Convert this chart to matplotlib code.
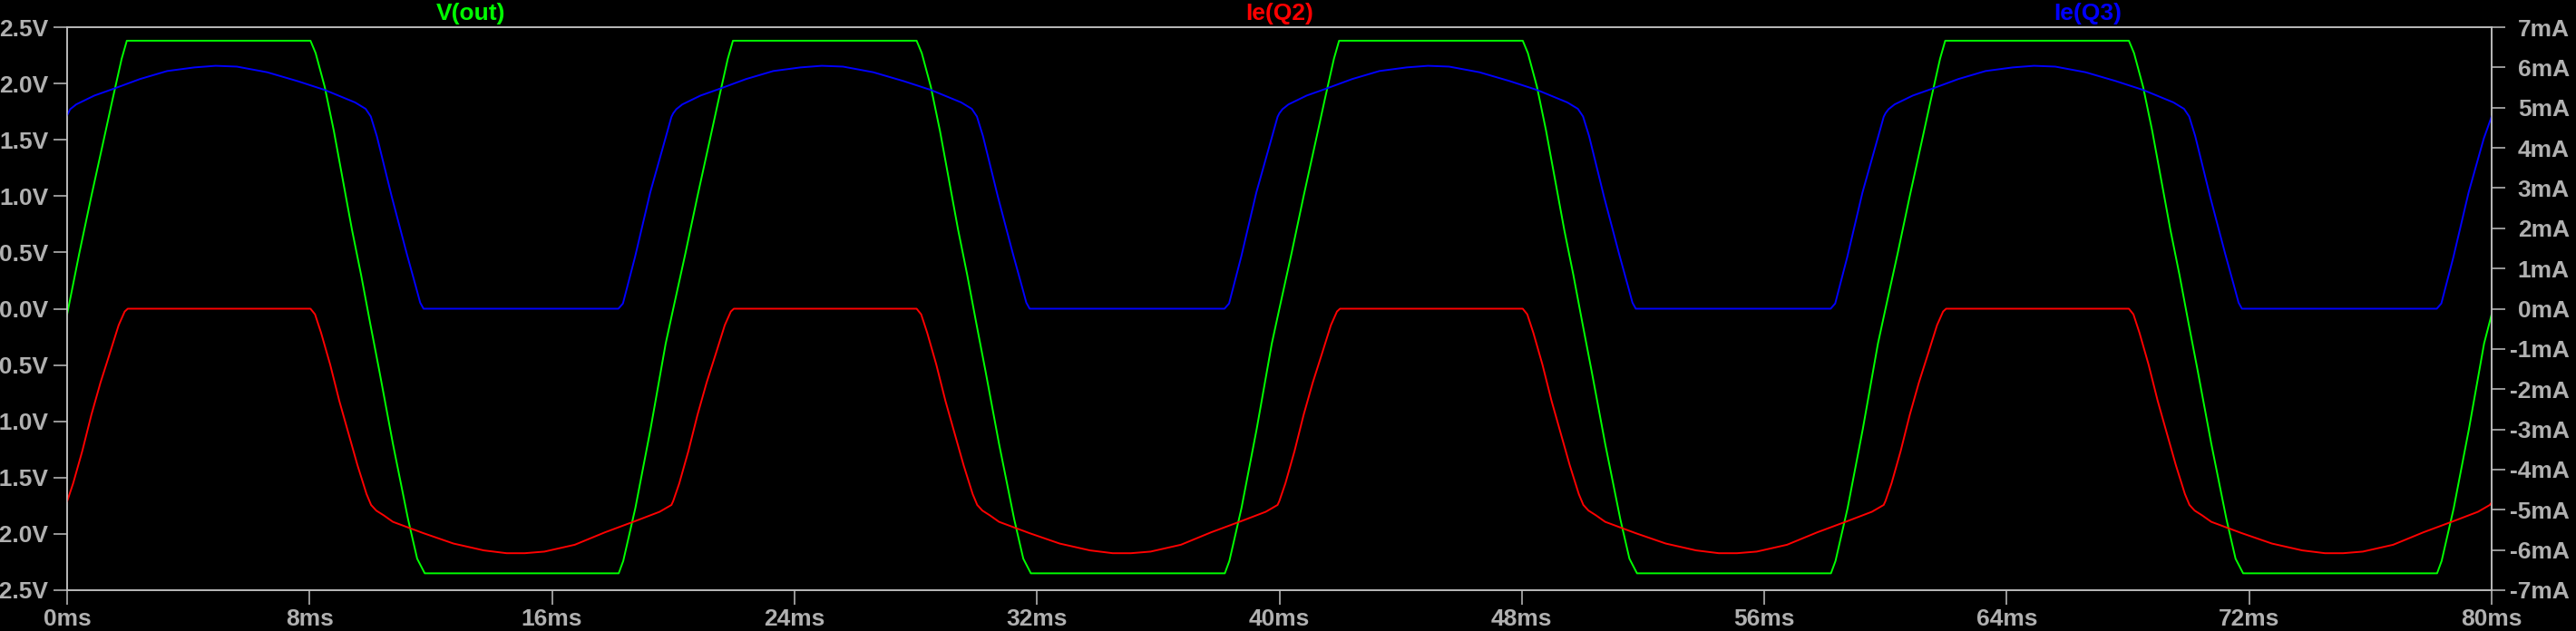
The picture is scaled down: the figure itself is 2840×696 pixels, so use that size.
import matplotlib
matplotlib.use('Agg')
import matplotlib.pyplot as plt

# ---------------- data ----------------
# time axis in ms
t_vout = [0.0, 0.4, 0.8, 1.2, 1.5, 1.8, 1.97, 8.03, 8.2, 8.5, 8.8, 9.1, 9.4, 9.7, 10.0, 10.3, 10.75, 11.25, 11.55, 11.8, 18.2, 18.35, 18.75, 19.25, 19.75,
          20.0, 20.4, 20.8, 21.2, 21.5, 21.8, 21.97, 28.03, 28.2, 28.5, 28.8, 29.1, 29.4, 29.7, 30.0, 30.3, 30.75, 31.25, 31.55, 31.8, 38.2, 38.35, 38.75, 39.25, 39.75,
          40.0, 40.4, 40.8, 41.2, 41.5, 41.8, 41.97, 48.03, 48.2, 48.5, 48.8, 49.1, 49.4, 49.7, 50.0, 50.3, 50.75, 51.25, 51.55, 51.8, 58.2, 58.35, 58.75, 59.25, 59.75,
          60.0, 60.4, 60.8, 61.2, 61.5, 61.8, 61.97, 68.03, 68.2, 68.5, 68.8, 69.1, 69.4, 69.7, 70.0, 70.3, 70.75, 71.25, 71.55, 71.8, 78.2, 78.35, 78.75, 79.25, 79.75,
          80.0]
v_out = [-0.05, 0.49, 1.00, 1.49, 1.86, 2.22, 2.38, 2.38, 2.27, 1.97, 1.58, 1.14, 0.70, 0.30, -0.13, -0.55, -1.20, -1.87, -2.22, -2.35, -2.35, -2.24, -1.77, -1.07, -0.31,
         0.00, 0.49, 1.00, 1.49, 1.86, 2.22, 2.38, 2.38, 2.27, 1.97, 1.58, 1.14, 0.70, 0.30, -0.13, -0.55, -1.20, -1.87, -2.22, -2.35, -2.35, -2.24, -1.77, -1.07, -0.31,
         0.00, 0.49, 1.00, 1.49, 1.86, 2.22, 2.38, 2.38, 2.27, 1.97, 1.58, 1.14, 0.70, 0.30, -0.13, -0.55, -1.20, -1.87, -2.22, -2.35, -2.35, -2.24, -1.77, -1.07, -0.31,
         0.00, 0.49, 1.00, 1.49, 1.86, 2.22, 2.38, 2.38, 2.27, 1.97, 1.58, 1.14, 0.70, 0.30, -0.13, -0.55, -1.20, -1.87, -2.22, -2.35, -2.35, -2.24, -1.77, -1.07, -0.31,
         -0.05]

t_q2 = [0.0, 0.2, 0.5, 0.8, 1.1, 1.4, 1.7, 1.9, 2.0, 8.03, 8.18, 8.38, 8.68, 8.98, 9.28, 9.58, 9.88, 10.03, 10.2, 10.45, 10.75, 11.75, 12.75, 13.75, 14.5, 15.1, 15.75, 16.75, 17.75, 18.75, 19.55, 19.94,
        20.0, 20.2, 20.5, 20.8, 21.1, 21.4, 21.7, 21.9, 22.0, 28.03, 28.18, 28.38, 28.68, 28.98, 29.28, 29.58, 29.88, 30.03, 30.2, 30.45, 30.75, 31.75, 32.75, 33.75, 34.5, 35.1, 35.75, 36.75, 37.75, 38.75, 39.55, 39.94,
        40.0, 40.2, 40.5, 40.8, 41.1, 41.4, 41.7, 41.9, 42.0, 48.03, 48.18, 48.38, 48.68, 48.98, 49.28, 49.58, 49.88, 50.03, 50.2, 50.45, 50.75, 51.75, 52.75, 53.75, 54.5, 55.1, 55.75, 56.75, 57.75, 58.75, 59.55, 59.94,
        60.0, 60.2, 60.5, 60.8, 61.1, 61.4, 61.7, 61.9, 62.0, 68.03, 68.18, 68.38, 68.68, 68.98, 69.28, 69.58, 69.88, 70.03, 70.2, 70.45, 70.75, 71.75, 72.75, 73.75, 74.5, 75.1, 75.75, 76.75, 77.75, 78.75, 79.55, 79.94,
        80.0]
ie_q2 = [-4.79, -4.34, -3.54, -2.64, -1.84, -1.13, -0.41, -0.07, 0.0, 0.0, -0.14, -0.60, -1.39, -2.29, -3.09, -3.89, -4.61, -4.88, -5.02, -5.14, -5.30, -5.58, -5.84, -6.01, -6.08, -6.08, -6.04, -5.87, -5.56, -5.28, -5.05, -4.88,
         -4.78, -4.34, -3.54, -2.64, -1.84, -1.13, -0.41, -0.07, 0.0, 0.0, -0.14, -0.60, -1.39, -2.29, -3.09, -3.89, -4.61, -4.88, -5.02, -5.14, -5.30, -5.58, -5.84, -6.01, -6.08, -6.08, -6.04, -5.87, -5.56, -5.28, -5.05, -4.88,
         -4.78, -4.34, -3.54, -2.64, -1.84, -1.13, -0.41, -0.07, 0.0, 0.0, -0.14, -0.60, -1.39, -2.29, -3.09, -3.89, -4.61, -4.88, -5.02, -5.14, -5.30, -5.58, -5.84, -6.01, -6.08, -6.08, -6.04, -5.87, -5.56, -5.28, -5.05, -4.88,
         -4.78, -4.34, -3.54, -2.64, -1.84, -1.13, -0.41, -0.07, 0.0, 0.0, -0.14, -0.60, -1.39, -2.29, -3.09, -3.89, -4.61, -4.88, -5.02, -5.14, -5.30, -5.58, -5.84, -6.01, -6.08, -6.08, -6.04, -5.87, -5.56, -5.28, -5.05, -4.88,
         -4.82]

t_q3 = [0.0, 0.1, 0.3, 0.9, 1.5, 2.4, 3.3, 4.2, 4.9, 5.6, 6.6, 7.6, 8.5, 9.5, 9.85, 10.02, 10.22, 10.71, 11.21, 11.51, 11.65, 11.76, 18.19, 18.34, 18.74, 19.24, 19.74, 19.94,
        20.0, 20.1, 20.3, 20.9, 21.5, 22.4, 23.3, 24.2, 24.9, 25.6, 26.6, 27.6, 28.5, 29.5, 29.85, 30.02, 30.22, 30.71, 31.21, 31.51, 31.65, 31.76, 38.19, 38.34, 38.74, 39.24, 39.74, 39.94,
        40.0, 40.1, 40.3, 40.9, 41.5, 42.4, 43.3, 44.2, 44.9, 45.6, 46.6, 47.6, 48.5, 49.5, 49.85, 50.02, 50.22, 50.71, 51.21, 51.51, 51.65, 51.76, 58.19, 58.34, 58.74, 59.24, 59.74, 59.94,
        60.0, 60.1, 60.3, 60.9, 61.5, 62.4, 63.3, 64.2, 64.9, 65.6, 66.6, 67.6, 68.5, 69.5, 69.85, 70.02, 70.22, 70.71, 71.21, 71.51, 71.65, 71.76, 78.19, 78.34, 78.74, 79.24, 79.74,
        80.0]
ie_q3 = [4.81, 4.96, 5.08, 5.30, 5.46, 5.71, 5.91, 6.00, 6.04, 6.02, 5.88, 5.66, 5.44, 5.13, 4.97, 4.78, 4.29, 2.79, 1.36, 0.54, 0.15, 0.0, 0.0, 0.13, 1.29, 2.89, 4.23, 4.77,
         4.86, 4.96, 5.08, 5.30, 5.46, 5.71, 5.91, 6.00, 6.04, 6.02, 5.88, 5.66, 5.44, 5.13, 4.97, 4.78, 4.29, 2.79, 1.36, 0.54, 0.15, 0.0, 0.0, 0.13, 1.29, 2.89, 4.23, 4.77,
         4.86, 4.96, 5.08, 5.30, 5.46, 5.71, 5.91, 6.00, 6.04, 6.02, 5.88, 5.66, 5.44, 5.13, 4.97, 4.78, 4.29, 2.79, 1.36, 0.54, 0.15, 0.0, 0.0, 0.13, 1.29, 2.89, 4.23, 4.77,
         4.86, 4.96, 5.08, 5.30, 5.46, 5.71, 5.91, 6.00, 6.04, 6.02, 5.88, 5.66, 5.44, 5.13, 4.97, 4.78, 4.29, 2.79, 1.36, 0.54, 0.15, 0.0, 0.0, 0.13, 1.29, 2.89, 4.23,
         4.78]

x_ticks = [0, 8, 16, 24, 32, 40, 48, 56, 64, 72, 80]
x_labels = ['0ms', '8ms', '16ms', '24ms', '32ms', '40ms', '48ms', '56ms', '64ms', '72ms', '80ms']
v_ticks = [2.5, 2.0, 1.5, 1.0, 0.5, 0.0, -0.5, -1.0, -1.5, -2.0, -2.5]
v_labels = ['2.5V', '2.0V', '1.5V', '1.0V', '0.5V', '0.0V', '-0.5V', '-1.0V', '-1.5V', '-2.0V', '-2.5V']
i_ticks = [7, 6, 5, 4, 3, 2, 1, 0, -1, -2, -3, -4, -5, -6, -7]
i_labels = ['7mA', '6mA', '5mA', '4mA', '3mA', '2mA', '1mA', '0mA', '-1mA', '-2mA', '-3mA', '-4mA', '-5mA', '-6mA', '-7mA']
trace_names = ['V(out)', 'Ie(Q2)', 'Ie(Q3)']
trace_colors = ['#00ff00', '#ff0000', '#0000ff']

# ---------------- drawing ----------------
plt.rcParams['font.family'] = ['Liberation Sans', 'DejaVu Sans']
plt.rcParams['font.weight'] = 'bold'
plt.rcParams['axes.unicode_minus'] = False

W, H = 2840, 696
L, R, T, B = 74, 2747, 30, 651
fig = plt.figure(figsize=(W / 100, H / 100), dpi=100, facecolor='black')
ax = fig.add_axes([L / W, (H - B) / H, (R - L) / W, (B - T) / H])
ax.set_facecolor('black')
ax2 = ax.twinx()

lw = 1.4
ax.plot(t_vout, v_out, color=trace_colors[0], lw=lw)
ax2.plot(t_q2, ie_q2, color=trace_colors[1], lw=lw)
ax2.plot(t_q3, ie_q3, color=trace_colors[2], lw=lw)

ax.set_xlim(0, 80)
ax.set_ylim(-2.5, 2.5)
ax2.set_ylim(-7, 7)
ax.set_xticks(x_ticks)
ax.set_xticklabels(x_labels)
ax.set_yticks(v_ticks)
ax.set_yticklabels(v_labels)
ax2.set_yticks(i_ticks)
ax2.set_yticklabels(i_labels)

axis_col = '#c0c0c0'
text_col = '#b0b0b0'
fs = 19
for a in (ax, ax2):
    for s in a.spines.values():
        s.set_color(axis_col)
        s.set_linewidth(1.1)
ax.tick_params(axis='x', direction='out', length=11.5, width=1.1, color=axis_col,
               labelcolor=text_col, labelsize=fs, pad=3)
ax.tick_params(axis='y', direction='out', length=10.8, width=1.1, color=axis_col,
               labelcolor=text_col, labelsize=fs, pad=4)
ax2.tick_params(axis='y', direction='out', length=10.8, width=1.1, color=axis_col,
                labelcolor=text_col, labelsize=fs, pad=51)
for lbl in ax2.get_yticklabels():
    lbl.set_horizontalalignment('right')
    lbl.set_fontweight('bold')
for lbl in ax.get_yticklabels() + ax.get_xticklabels():
    lbl.set_fontweight('bold')

for k, (name, col) in enumerate(zip(trace_names, trace_colors)):
    xf = (L + (R - L) * (2 * k + 1) / 6) / W
    fig.text(xf, (H - 21.7) / H, name, color=col, fontsize=fs, fontweight='bold',
             ha='center', va='baseline')

fig.savefig('out.png', dpi=100, facecolor='black')
